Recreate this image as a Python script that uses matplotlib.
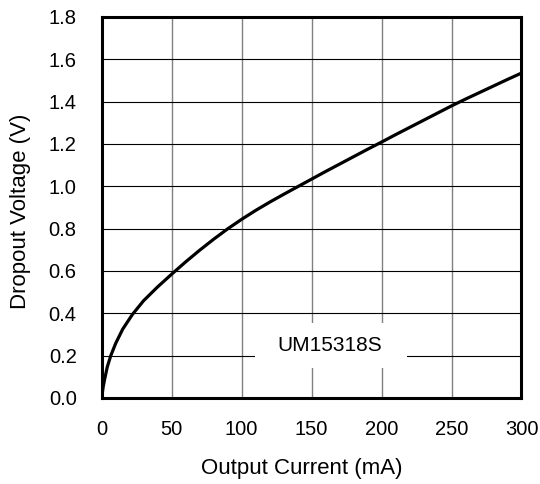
import numpy as np
import matplotlib
matplotlib.use("Agg")
import matplotlib.pyplot as plt
from matplotlib.patches import Rectangle

plt.rcParams["font.family"] = ["Liberation Sans", "DejaVu Sans"]

# values
current_mA = [0, 1, 2, 4, 6.5, 10, 15, 22, 30, 40, 50, 60, 70, 80, 90, 100,
              110, 120, 130, 140, 150, 160, 170, 180, 190, 200, 210, 220,
              230, 240, 250, 260, 270, 280, 290, 300]
dropout_V = [0.0, 0.05, 0.085, 0.147, 0.2, 0.258, 0.325, 0.395, 0.46, 0.525,
             0.585, 0.643, 0.698, 0.75, 0.799, 0.844, 0.886, 0.925, 0.962,
             0.998, 1.034, 1.07, 1.105, 1.14, 1.175, 1.209, 1.244, 1.278,
             1.312, 1.346, 1.38, 1.412, 1.443, 1.474, 1.505, 1.535]
x_ticks = [0, 50, 100, 150, 200, 250, 300]
y_ticks = [0.0, 0.2, 0.4, 0.6, 0.8, 1.0, 1.2, 1.4, 1.6, 1.8]
part_name = "UM15318S"

fg = plt.figure(figsize=(5.4, 4.84), dpi=100)
ax = fg.add_axes([0.1883, 0.1777, 0.7774, 0.7872])

ax.set_xlim(0, 300)
ax.set_ylim(0, 1.8)
ax.set_xticks(x_ticks)
ax.set_yticks(y_ticks, labels=["%.1f" % v for v in y_ticks])
ax.tick_params(axis="both", length=0, labelsize=14.5)
ax.tick_params(axis="x", pad=16)
ax.tick_params(axis="y", pad=18)

ax.xaxis.grid(True, color="#808080", linewidth=1.0)
ax.yaxis.grid(True, color="black", linewidth=0.8)
ax.set_axisbelow(True)

for sp in ax.spines.values():
    sp.set_linewidth(2.2)
    sp.set_color("black")

ax.plot(current_mA, dropout_V, color="black", linewidth=2.3, zorder=4,
        solid_joinstyle="round")

# white label box covering the grid
ax.add_patch(Rectangle((109.5, 0.14), 108.4, 0.213, facecolor="white",
                       edgecolor="none", zorder=2))
ax.text(163, 0.246, part_name, ha="center", va="center", fontsize=15, zorder=3)

ax.set_xlabel("Output Current (mA)", fontsize=16)
ax.set_ylabel("Dropout Voltage (V)", fontsize=16)
ax.xaxis.label.set_va("center")
ax.yaxis.label.set_va("center")
ax.xaxis.set_label_coords(0.476, -0.184)
ax.yaxis.set_label_coords(-0.1945, 0.489)

fg.savefig("out.png", dpi=100)
plt.close(fg)
